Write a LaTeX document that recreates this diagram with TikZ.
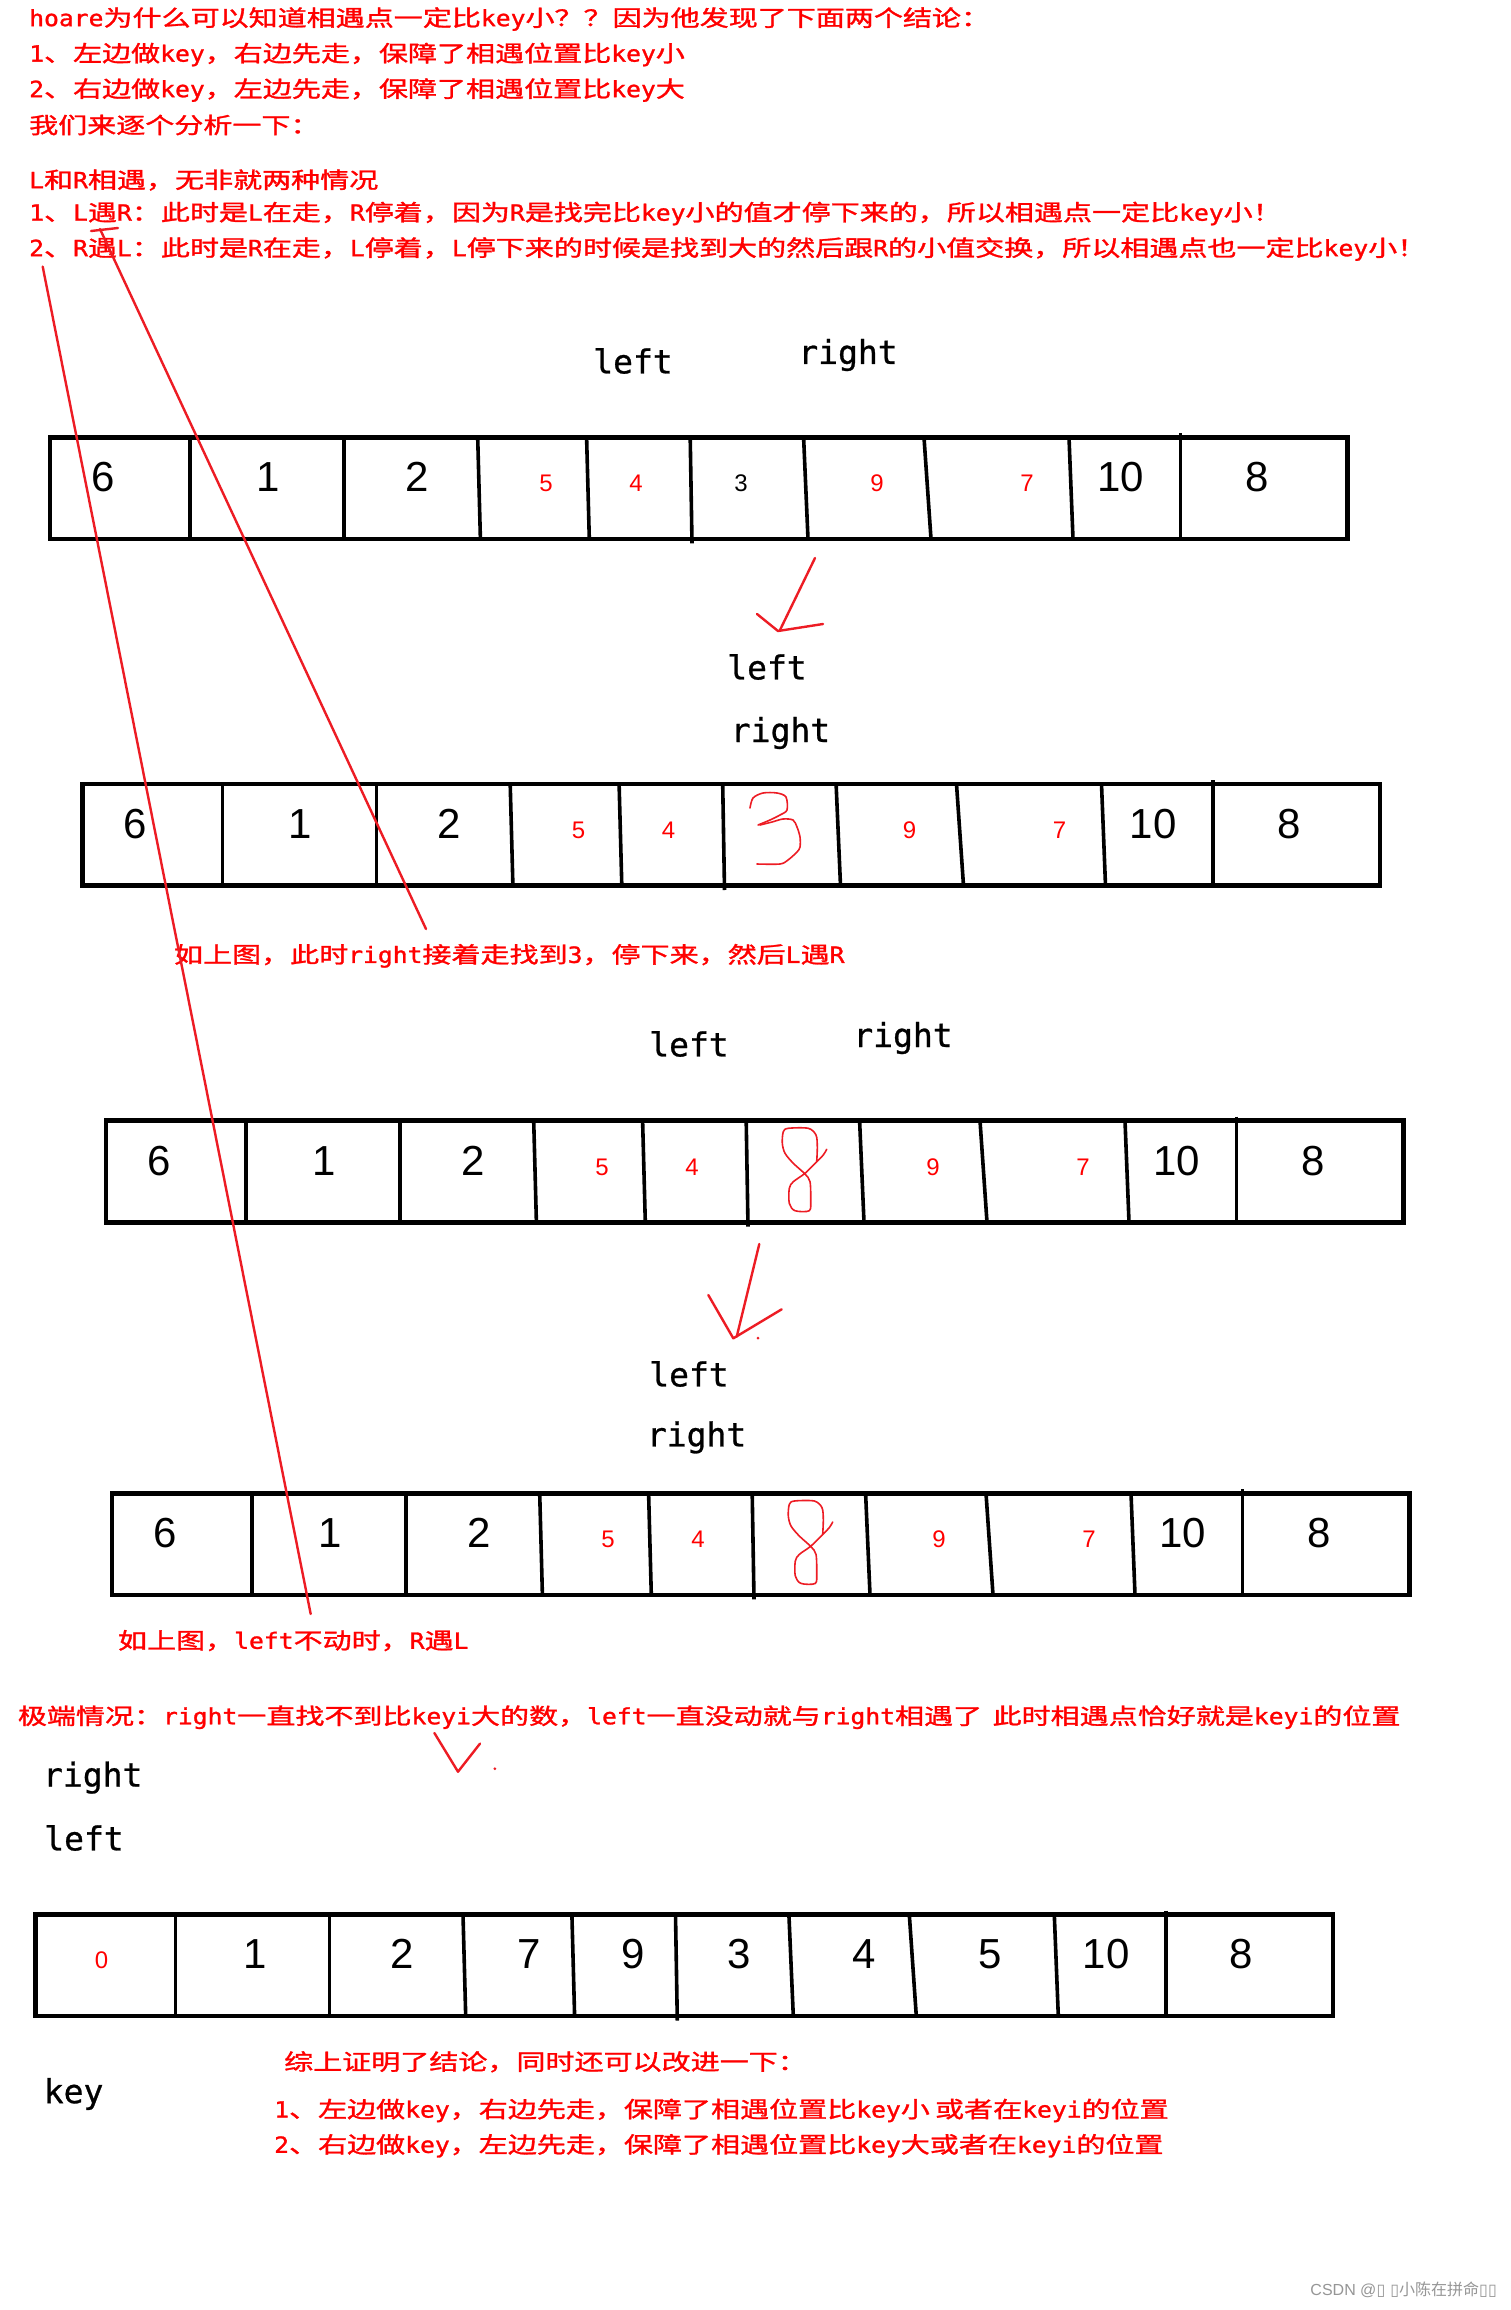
\documentclass[tikz,border=0pt]{standalone}
\usepackage{fontspec}
\usepackage{graphicx}
\newfontfamily\cjk{Noto Sans CJK SC}[FakeBold=1.2]
\newfontfamily\monof{DejaVu Sans Mono}[FakeBold=1.2]
\newfontfamily\labf{DejaVu Sans Mono}[FakeBold=0.8]
\newfontfamily\numf{Liberation Sans}
\newfontfamily\wcjk{Noto Sans CJK SC}
\newfontfamily\djv{DejaVu Sans}
\definecolor{tred}{RGB}{255,0,0}
\definecolor{pen}{RGB}{237,28,36}
\definecolor{wm}{RGB}{150,150,150}
\newcommand\lat[1]{\scalebox{0.85}[1]{\monof #1}}
\newcommand\rt[1]{\scalebox{1.302}[1]{\fontsize{22.3}{26}\selectfont\cjk #1}}
\tikzset{
  redtxt/.style={anchor=west,inner sep=0pt,text=tred},
  lab/.style={inner sep=0pt,font=\fontsize{33}{36}\selectfont\labf},
  big/.style={anchor=base,inner sep=0pt,font=\fontsize{42}{46}\selectfont\numf},
  small/.style={anchor=base,inner sep=0pt,font=\fontsize{24}{28}\selectfont\numf},
  sred/.style={small,text=tred},
  bord/.style={line width=4.6pt},
  divl/.style={line width=3.6pt},
  penl/.style={draw=pen,line width=2.4pt,line cap=round,line join=round},
  scrib/.style={draw=pen,line width=1.6pt,line cap=round,line join=round},
}
\newcommand\arrframe[3]{%
\begin{scope}[shift={(#1,#2)}]
  \draw[bord] (0,0) rectangle (1297.5,101.6);
  \draw[divl] (140,0) -- (140,101.6);
  \draw[divl] (294,0) -- (294,101.6);
  \draw[divl] (427.7,0) -- (430.4,101.6);
  \draw[divl] (536.6,0) -- (539.3,101.6);
  \draw[divl] (640.2,0) -- (642,106);
  \draw[divl] (753.6,0) -- (758,101.6);
  \draw[divl] (874,0) -- (881,101.6);
  \draw[divl] (1019,0) -- (1023,101.6);
  \draw[divl] (1130.4,-4) -- (1130.4,101.6);
  #3
\end{scope}}
\newcommand\stdnums[1]{%
  \node[big] (#1a) at (52.7,54.3) {6};
  \node[big] (#1b) at (218,54.3) {1};
  \node[big] (#1c) at (367,54.3) {2};
  \node[sred] (#1d) at (496,54.3) {5};
  \node[sred] (#1e) at (586,54.3) {4};
  \node[sred] (#1g) at (827,54.3) {9};
  \node[sred] (#1h) at (977,54.3) {7};
  \node[big] (#1i) at (1070.5,54.3) {10};
  \node[big] (#1j) at (1207,54.3) {8};}
\newcommand\eightat[2]{%
\begin{scope}[shift={(#1,#2)}]
  \draw[scrib] plot[smooth,tension=0.5] coordinates {(826.7,1149.3) (823.3,1155) (816.7,1161.7) (805,1173.3) (793.3,1181.7) (789.3,1188.3) (789.3,1203.3) (795,1210.7) (809.3,1210.7) (810.7,1200) (810,1181.7) (805,1174) (793.3,1163.3) (785,1153.3) (782.3,1143.3) (783.3,1131.7) (788.3,1128.3) (808.3,1128.3) (816,1135) (817.3,1146.7) (816.7,1161.7)};
\end{scope}}
\begin{document}
\begin{tikzpicture}[x=1pt,y=-1pt]
\useasboundingbox (0,0) rectangle (1511,2310);
\fill[white] (0,0) rectangle (1511,2310);

% top texts
\node[redtxt] (t1) at (29,19) {\rt{\lat{hoare}为什么可以知道相遇点一定比\lat{key}小？？因为他发现了下面两个结论：}};
\node[redtxt] (t2) at (29,54.5) {\rt{\lat{1}、左边做\lat{key}，右边先走，保障了相遇位置比\lat{key}小}};
\node[redtxt] (t3) at (29,90) {\rt{\lat{2}、右边做\lat{key}，左边先走，保障了相遇位置比\lat{key}大}};
\node[redtxt] (t4) at (29,125) {\rt{我们来逐个分析一下：}};
\node[redtxt] (t5) at (29,180) {\rt{\lat{L}和\lat{R}相遇，无非就两种情况}};
\node[redtxt] (t6) at (29,213.5) {\rt{\lat{1}、\lat{L}遇\lat{R}：此时是\lat{L}在走，\lat{R}停着，因为\lat{R}是找完比\lat{key}小的值才停下来的，所以相遇点一定比\lat{key}小！}};
\node[redtxt] (t7) at (29,249) {\rt{\lat{2}、\lat{R}遇\lat{L}：此时是\lat{R}在走，\lat{L}停着，\lat{L}停下来的时候是找到大的然后跟\lat{R}的小值交换，所以相遇点也一定比\lat{key}小！}};

% array 1
\node[lab] (l1) at (633,361) {left};
\node[lab] (r1) at (848,355) {right};
\arrframe{50}{437.4}{\stdnums{p}\node[small] (pf) at (691,54.3) {3};}

% arrow 1
\draw[penl] (815,558) -- (780,630);
\draw[penl] (757,614) -- (778,631) -- (823,624);

% array 2
\node[lab] (l2) at (767,667) {left};
\node[lab] (r2) at (780.5,733) {right};
\arrframe{82.5}{784}{\stdnums{q}}
\draw[scrib] plot[smooth,tension=0.5] coordinates {(750,808) (753,798) (763,793) (777,793) (786,797) (787,810) (780,815) (770,820) (758,825)};
\draw[scrib] plot[smooth,tension=0.5] coordinates {(760,825) (772,822) (783,819) (793,820) (797,827) (800,837) (800,847) (797,852) (788,860) (780,864) (757,864)};
\node[redtxt] (t8) at (173.8,955.8) {\rt{如上图，此时\lat{right}接着走找到\lat{3}，停下来，然后\lat{L}遇\lat{R}}};

% array 3
\node[lab] (l3) at (689,1044) {left};
\node[lab] (r3) at (903,1038) {right};
\arrframe{106}{1120.7}{\stdnums{s}}
\eightat{0}{0}

% arrow 2
\draw[penl] (759.3,1244) -- (736.7,1336.7);
\draw[penl] (708.3,1295) -- (733.3,1338.3) -- (781.7,1309.3);
\fill[pen] (758,1338) circle (1.5);

% array 4
\node[lab] (l4) at (689,1374) {left};
\node[lab] (r4) at (696.6,1437.4) {right};
\arrframe{112}{1493.3}{\stdnums{u}}
\eightat{6}{372.7}
\node[redtxt] (t9) at (117.8,1640.6) {\rt{如上图，\lat{left}不动时，\lat{R}遇\lat{L}}};

% extreme case
\node[redtxt] (t10) at (17.7,1717.2) {\rt{极端情况：\lat{right}一直找不到比\lat{keyi}大的数，\lat{left}一直没动就与\lat{right}相遇了\hspace{8pt}此时相遇点恰好就是\lat{keyi}的位置}};
\draw[penl] (434.4,1733) -- (458,1771.7) -- (480,1743.6);
\fill[pen] (494.8,1768.7) circle (1.5);

\node[lab] (r5) at (92.8,1777.6) {right};
\node[lab] (l5) at (84,1838) {left};
\arrframe{35.3}{1914.5}{%
  \node[sred] (v0) at (66.3,54.3) {0};
  \node[big] (v1) at (219.5,54.3) {1};
  \node[big] (v2) at (366.8,54.3) {2};
  \node[big] (v3) at (493.4,54.3) {7};
  \node[big] (v4) at (598,54.3) {9};
  \node[big] (v5) at (704,54.3) {3};
  \node[big] (v6) at (829,54.3) {4};
  \node[big] (v7) at (954.4,54.3) {5};
  \node[big] (v8) at (1070.7,54.3) {10};
  \node[big] (v9) at (1206,54.3) {8};}
\node[lab] (key) at (73.6,2094) {key};

\node[redtxt] (t11) at (284,2061.8) {\rt{综上证明了结论，同时还可以改进一下：}};
\node[redtxt] (t12) at (274,2110.4) {\rt{\lat{1}、左边做\lat{key}，右边先走，保障了相遇位置比\lat{key}小\hspace{4pt}或者在\lat{keyi}的位置}};
\node[redtxt] (t13) at (274,2145.7) {\rt{\lat{2}、右边做\lat{key}，左边先走，保障了相遇位置比\lat{key}大或者在\lat{keyi}的位置}};

% long red strokes
\draw[penl] (42.7,266.6) -- (310.7,1614);
\draw[penl] (100,229) -- (426,929);
\draw[penl] (91,231) -- (118,228);

% watermark
\node[anchor=east,inner sep=0pt,text=wm,font=\fontsize{16}{18}\selectfont] (wmk) at (1497,2290) {\numf CSDN @\djv ▯ ▯\wcjk 小陈在拼命\djv ▯▯};
\end{tikzpicture}
\end{document}
